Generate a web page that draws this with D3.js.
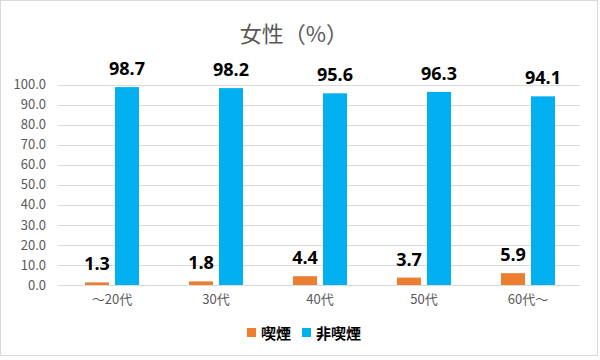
<!DOCTYPE html>
<html><head><meta charset="utf-8">
<script src="https://cdn.jsdelivr.net/npm/d3@7"></script>
<style>body{margin:0;background:#fff}svg{display:block}</style>
</head><body>
<script>
const categories = ["～20代","30代","40代","50代","60代～"];
const smoking = [1.3,1.8,4.4,3.7,5.9];
const nonSmoking = [98.7,98.2,95.6,96.3,94.1];
const yTicks = [0,10,20,30,40,50,60,70,80,90,100];
const seriesNames = ["喫煙","非喫煙"];
const colors = ["#ED7D31","#00B0F0"];

const W=600,H=360;
const svg=d3.select("body").append("svg").attr("width",W).attr("height",H);
const font="'Noto Sans CJK JP','Noto Sans',sans-serif";
svg.append("rect").attr("x",0.5).attr("y",0.5).attr("width",W-3).attr("height",H-5)
  .attr("fill","#fff").attr("stroke","#d9d9d9");

const x=d3.scaleBand().domain(categories).range([60,580]);
const y=d3.scaleLinear().domain([0,100]).range([285,84.5]);

// gridlines
svg.append("g").selectAll("line").data(yTicks).join("line")
  .attr("x1",58).attr("x2",580).attr("y1",d=>Math.round(y(d))+0.5).attr("y2",d=>Math.round(y(d))+0.5)
  .attr("stroke","#d9d9d9").attr("stroke-width",1);

// y axis labels
const yAxis=d3.axisLeft(y).tickValues(yTicks).tickFormat(d3.format(".1f")).tickSize(0).tickPadding(6);
const ga=svg.append("g").attr("transform","translate(52,0)").call(yAxis);
ga.select(".domain").remove();
ga.selectAll("text").attr("fill","#595959").attr("font-size",13).attr("font-family",font);

// x axis labels
const xAxis=d3.axisBottom(x).tickSize(0).tickPadding(10);
const gx=svg.append("g").attr("transform","translate(0,285)").call(xAxis);
gx.select(".domain").remove();
gx.selectAll("text").attr("fill","#595959").attr("font-size",13).attr("font-family",font);

const bw=24, gap=6;
const series=[smoking,nonSmoking];
series.forEach((vals,si)=>{
  const off = si===0 ? -(bw+gap/2) : gap/2;
  const g=svg.append("g");
  g.selectAll("rect").data(vals).join("rect")
    .attr("x",(d,i)=>x(categories[i])+x.bandwidth()/2+off)
    .attr("width",bw)
    .attr("y",d=>y(d)).attr("height",d=>y(0)-y(d))
    .attr("fill",colors[si]);
  g.selectAll("text").data(vals).join("text")
    .attr("x",(d,i)=>x(categories[i])+x.bandwidth()/2+off+bw/2)
    .attr("y",d=>y(d)-12)
    .attr("text-anchor","middle")
    .attr("font-size",18).attr("font-weight","bold").attr("fill","#000")
    .attr("font-family","'Open Sans','Noto Sans',sans-serif")
    .text(d=>d.toFixed(1));
});

// title
svg.append("text").attr("x",294).attr("y",42).attr("text-anchor","middle")
  .attr("font-size",22).attr("fill","#595959").attr("font-family",font).text("女性（%）");

// legend
const leg=[{x:247,name:seriesNames[0],c:colors[0]},{x:302,name:seriesNames[1],c:colors[1]}];
leg.forEach(l=>{
  svg.append("rect").attr("x",l.x).attr("y",328).attr("width",9).attr("height",9).attr("fill",l.c);
  svg.append("text").attr("x",l.x+14).attr("y",339).attr("font-size",15).attr("font-weight","bold")
    .attr("fill","#000").attr("font-family",font).text(l.name);
});
</script>
</body></html>
